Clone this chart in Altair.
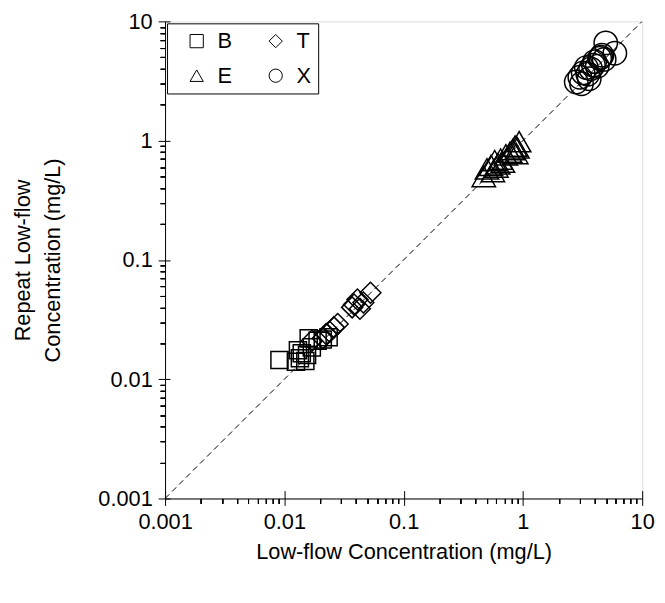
import altair as alt
import pandas as pd

FONT = "Liberation Sans"
FS = 22

# ---- data ----
species_order = ["B", "T", "E", "X"]
species_shapes = ["square", "diamond", "triangle-up", "circle"]
marker_sizes = [300, 450, 560, 560]

B_low = [0.0091, 0.0125, 0.0130, 0.0135, 0.0140, 0.0150, 0.0155, 0.0160, 0.0170, 0.0190, 0.0210, 0.0235]
B_rep = [0.0145, 0.0140, 0.0175, 0.0150, 0.0165, 0.0142, 0.0160, 0.0220, 0.0185, 0.0210, 0.0215, 0.0225]

T_low = [0.017, 0.021, 0.0224, 0.024, 0.026, 0.028, 0.037, 0.0384, 0.041, 0.043, 0.046, 0.0527]
T_rep = [0.021, 0.022, 0.0239, 0.025, 0.0272, 0.029, 0.040, 0.0423, 0.0466, 0.039, 0.044, 0.053]

E_low = [0.47, 0.50, 0.54, 0.56, 0.58, 0.60, 0.62, 0.65, 0.68, 0.72, 0.78, 0.82, 0.86, 0.90, 0.93, 0.88]
E_rep = [0.50, 0.58, 0.62, 0.55, 0.68, 0.60, 0.64, 0.70, 0.66, 0.76, 0.80, 0.84, 0.90, 0.87, 0.98, 0.78]

X_low = [2.8, 3.0, 3.1, 3.2, 3.5, 3.4, 3.7, 3.9, 4.0, 4.2, 4.4, 4.6, 4.8, 4.95, 5.9, 4.5, 3.6]
X_rep = [3.1, 3.4, 3.0, 3.7, 3.6, 4.1, 4.0, 4.3, 4.6, 4.2, 4.9, 5.2, 4.8, 6.6, 5.4, 5.0, 3.3]

one_to_one = [0.001, 10]

major_ticks = [0.001, 0.01, 0.1, 1, 10]
minor_ticks = [m * d for d in [0.001, 0.01, 0.1, 1] for m in range(2, 10)]

rows = []
for name, xs, ys in [("B", B_low, B_rep), ("T", T_low, T_rep), ("E", E_low, E_rep), ("X", X_low, X_rep)]:
    for a, b in zip(xs, ys):
        rows.append({"species": name, "low": a, "repeat": b})
df = pd.DataFrame(rows)
line_df = pd.DataFrame({"low": one_to_one, "repeat": one_to_one})

xscale = alt.Scale(type="log", domain=[0.001, 10], nice=False)
yscale = alt.Scale(type="log", domain=[0.001, 10], nice=False)

common = dict(grid=False, tickColor="black", tickWidth=1, labelFlush=False, labelOverlap=False)

# main axes with labels, titles and outward major ticks
line = alt.Chart(line_df).mark_line(color="black", strokeDash=[6, 4], strokeWidth=1, clip=True).encode(
    x=alt.X("low:Q", scale=xscale, axis=alt.Axis(
        orient="bottom", values=major_ticks, format="~g", tickSize=7, domainColor="black",
        labelFontSize=FS, labelFont=FONT, labelColor="black", labelPadding=6,
        title="Low-flow Concentration (mg/L)", titleFontSize=FS, titleFont=FONT,
        titleFontWeight="normal", titleColor="black", titlePadding=10, **common)),
    y=alt.Y("repeat:Q", scale=yscale, axis=alt.Axis(
        orient="left", values=major_ticks, format="~g", tickSize=7, domainColor="black",
        labelFontSize=FS, labelFont=FONT, labelColor="black", labelPadding=6,
        title=["Repeat Low-flow", "Concentration (mg/L)"], titleFontSize=FS, titleFont=FONT,
        titleFontWeight="normal", titleColor="black", titlePadding=34, titleLineHeight=30,
        **common)),
)

# inward part of the major ticks
inward = alt.Chart(line_df).mark_point(opacity=0).encode(
    x=alt.X("low:Q", scale=xscale, title=None, axis=alt.Axis(
        orient="bottom", values=major_ticks, tickSize=8, offset=-8, labels=False, domain=False, **common)),
    y=alt.Y("repeat:Q", scale=yscale, title=None, axis=alt.Axis(
        orient="left", values=major_ticks, tickSize=5, offset=-5, labels=False, domain=False, **common)),
)

# one layer per species, sharing the shape legend
point_layers = []
for name, sz in zip(species_order, marker_sizes):
    point_layers.append(
        alt.Chart(df[df["species"] == name]).mark_point(
            filled=False, color="black", strokeWidth=1.5, size=sz, opacity=1
        ).encode(
            x=alt.X("low:Q", scale=xscale, title=None, axis=alt.Axis(
                orient="bottom", values=minor_ticks, tickSize=5, labels=False, domain=False, **common)),
            y=alt.Y("repeat:Q", scale=yscale, title=None, axis=alt.Axis(
                orient="left", values=minor_ticks, tickSize=5, labels=False, domain=False, **common)),
            shape=alt.Shape("species:N", scale=alt.Scale(domain=species_order, range=species_shapes),
                            legend=alt.Legend(orient="top-left", offset=2, columns=2, direction="horizontal",
                                              title=None, values=species_order,
                                              labelExpr="(datum.label == 'T' || datum.label == 'X') ? datum.label + '\u00a0\u00a0\u00a0' : datum.label + '\u00a0\u00a0'",
                                              labelFontSize=FS, labelFont=FONT, labelColor="black",
                                              symbolSize=180, symbolStrokeColor="black", symbolStrokeWidth=1,
                                              symbolOpacity=1,
                                              strokeColor="black", fillColor="white", padding=7,
                                              symbolOffset=12, columnPadding=21, rowPadding=13,
                                              labelOffset=10)),
        )
    )

chart = alt.layer(line, inward, *point_layers).resolve_axis(x="independent", y="independent").properties(
    width=483, height=483,
    autosize=alt.AutoSizeParams(type="none"),
    padding={"left": 159, "top": 10, "right": 15, "bottom": 80},
).configure_view(stroke="black", strokeWidth=1).configure(background="white")

chart.save("out.html", embed_options={"renderer": "svg", "actions": False})
